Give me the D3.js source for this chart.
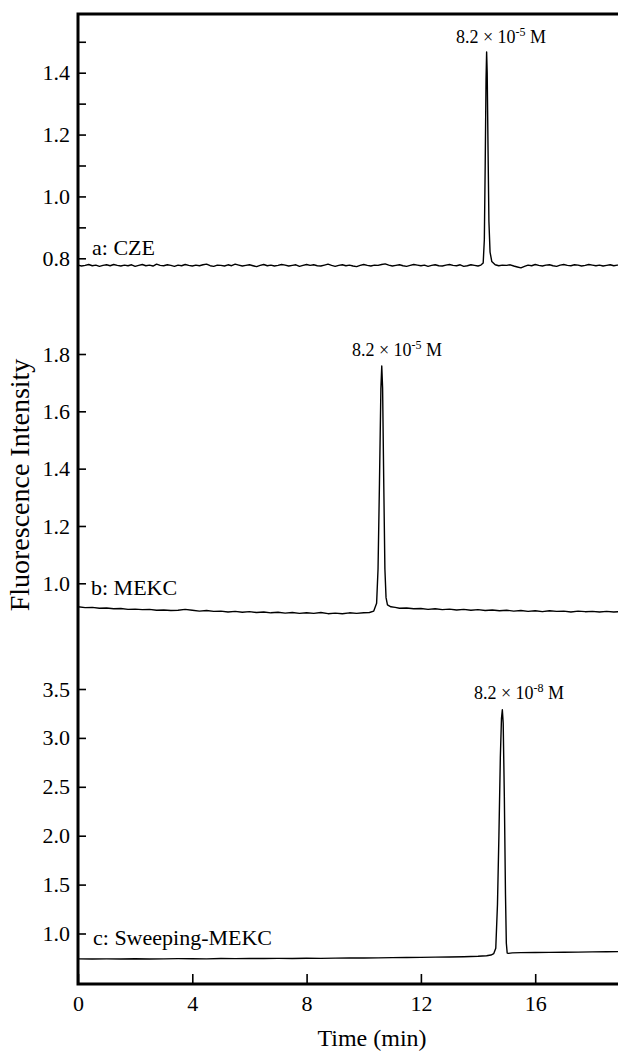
<!DOCTYPE html>
<html>
<head>
<meta charset="utf-8">
<script src="https://cdn.jsdelivr.net/npm/d3@7"></script>
<style>
  html, body { margin: 0; padding: 0; background: #fff; }
  svg { display: block; }
</style>
</head>
<body>
<svg id="chart" width="618" height="1061"></svg>
<script>
// Electropherograms, fluorescence intensity vs. time (min)

const X_TICKS = [0, 4, 8, 12, 16];

// a: CZE
const TRACE_A = [
  [0, 0.778], [0.125, 0.775], [0.25, 0.777], [0.375, 0.780], [0.5, 0.776], [0.625, 0.778],
  [0.75, 0.774], [0.875, 0.777], [1.0, 0.779], [1.125, 0.776], [1.25, 0.780], [1.375, 0.777],
  [1.5, 0.775], [1.625, 0.778], [1.75, 0.776], [1.875, 0.779], [2.0, 0.774], [2.125, 0.777],
  [2.25, 0.780], [2.375, 0.776], [2.5, 0.778], [2.625, 0.775], [2.75, 0.781], [2.875, 0.777],
  [3.0, 0.776], [3.125, 0.779], [3.25, 0.777], [3.375, 0.774], [3.5, 0.778], [3.625, 0.776],
  [3.75, 0.780], [3.875, 0.777], [4.0, 0.775], [4.125, 0.778], [4.25, 0.776], [4.375, 0.779],
  [4.5, 0.781], [4.625, 0.776], [4.75, 0.774], [4.875, 0.778], [5.0, 0.777], [5.125, 0.775],
  [5.25, 0.779], [5.375, 0.776], [5.5, 0.781], [5.625, 0.778], [5.75, 0.775], [5.875, 0.777],
  [6.0, 0.779], [6.125, 0.776], [6.25, 0.773], [6.375, 0.777], [6.5, 0.780], [6.625, 0.776],
  [6.75, 0.778], [6.875, 0.775], [7.0, 0.777], [7.125, 0.780], [7.25, 0.778], [7.375, 0.775],
  [7.5, 0.777], [7.625, 0.779], [7.75, 0.774], [7.875, 0.777], [8.0, 0.780], [8.125, 0.777],
  [8.25, 0.779], [8.375, 0.776], [8.5, 0.775], [8.625, 0.778], [8.75, 0.781], [8.875, 0.777],
  [9.0, 0.774], [9.125, 0.777], [9.25, 0.779], [9.375, 0.776], [9.5, 0.778], [9.625, 0.775],
  [9.75, 0.773], [9.875, 0.777], [10.0, 0.780], [10.125, 0.777], [10.25, 0.775], [10.375, 0.778],
  [10.5, 0.777], [10.625, 0.780], [10.75, 0.782], [10.875, 0.778], [11.0, 0.775], [11.125, 0.777],
  [11.25, 0.779], [11.375, 0.776], [11.5, 0.774], [11.625, 0.777], [11.75, 0.780], [11.875, 0.778],
  [12.0, 0.776], [12.125, 0.778], [12.25, 0.774], [12.375, 0.777], [12.5, 0.779], [12.625, 0.776],
  [12.75, 0.775], [12.875, 0.778], [13.0, 0.780], [13.125, 0.777], [13.25, 0.776], [13.375, 0.779],
  [13.5, 0.774], [13.625, 0.776], [13.75, 0.779], [13.875, 0.777], [14.0, 0.775], [14.1, 0.778],
  [14.18, 0.785], [14.22, 0.86], [14.25, 1.10], [14.28, 1.38], [14.30, 1.467], [14.32, 1.40],
  [14.35, 1.15], [14.38, 0.92], [14.42, 0.82], [14.48, 0.790], [14.6, 0.779], [14.725, 0.776],
  [14.85, 0.778], [15.0, 0.777], [15.125, 0.779], [15.25, 0.775], [15.375, 0.772], [15.5, 0.769],
  [15.625, 0.774], [15.75, 0.778], [15.875, 0.776], [16.0, 0.780], [16.125, 0.777], [16.25, 0.775],
  [16.375, 0.778], [16.5, 0.779], [16.625, 0.776], [16.75, 0.774], [16.875, 0.778], [17.0, 0.780],
  [17.125, 0.777], [17.25, 0.776], [17.375, 0.779], [17.5, 0.778], [17.625, 0.775], [17.75, 0.777],
  [17.875, 0.780], [18.0, 0.778], [18.125, 0.776], [18.25, 0.778], [18.375, 0.775], [18.5, 0.777],
  [18.625, 0.779], [18.75, 0.776], [18.875, 0.778], [19.0, 0.777]
];

// b: MEKC
const TRACE_B = [
  [0, 0.918], [0.25, 0.915], [0.5, 0.916], [0.75, 0.913], [1.0, 0.914], [1.25, 0.911],
  [1.5, 0.912], [1.75, 0.909], [2.0, 0.910], [2.25, 0.908], [2.5, 0.909], [2.75, 0.906],
  [3.0, 0.907], [3.25, 0.905], [3.5, 0.906], [3.75, 0.909], [4.0, 0.906], [4.25, 0.903],
  [4.5, 0.905], [4.75, 0.902], [5.0, 0.903], [5.25, 0.900], [5.5, 0.902], [5.75, 0.899],
  [6.0, 0.901], [6.25, 0.898], [6.5, 0.900], [6.75, 0.897], [7.0, 0.899], [7.25, 0.896],
  [7.5, 0.898], [7.75, 0.895], [8.0, 0.897], [8.25, 0.895], [8.5, 0.898], [8.75, 0.894],
  [9.0, 0.896], [9.25, 0.894], [9.5, 0.897], [9.75, 0.895], [10.0, 0.897], [10.2, 0.898],
  [10.35, 0.903], [10.45, 0.93], [10.5, 1.05], [10.55, 1.35], [10.6, 1.68], [10.63, 1.758],
  [10.66, 1.68], [10.7, 1.35], [10.74, 1.05], [10.78, 0.95], [10.83, 0.925], [10.95, 0.918],
  [11.1, 0.916], [11.25, 0.913], [11.5, 0.914], [11.75, 0.911], [12.0, 0.912], [12.25, 0.909],
  [12.5, 0.911], [12.75, 0.908], [13.0, 0.910], [13.25, 0.907], [13.5, 0.909], [13.75, 0.906],
  [14.0, 0.908], [14.25, 0.905], [14.5, 0.907], [14.75, 0.904], [15.0, 0.906], [15.25, 0.903],
  [15.5, 0.905], [15.75, 0.902], [16.0, 0.904], [16.25, 0.901], [16.5, 0.904], [16.75, 0.902],
  [17.0, 0.903], [17.25, 0.900], [17.5, 0.903], [17.75, 0.901], [18.0, 0.902], [18.25, 0.900],
  [18.5, 0.902], [18.75, 0.900], [19.0, 0.901]
];

// c: Sweeping-MEKC
const TRACE_C = [
  [0, 0.741], [0.5, 0.739], [1.0, 0.741], [1.5, 0.740], [2.0, 0.742], [2.5, 0.740],
  [3.0, 0.741], [3.5, 0.743], [4.0, 0.742], [4.5, 0.741], [5.0, 0.744], [5.5, 0.743],
  [6.0, 0.745], [6.5, 0.744], [7.0, 0.746], [7.5, 0.745], [8.0, 0.747], [8.5, 0.746],
  [9.0, 0.748], [9.5, 0.749], [10.0, 0.750], [10.5, 0.751], [11.0, 0.753], [11.5, 0.754],
  [12.0, 0.756], [12.5, 0.758], [13.0, 0.760], [13.5, 0.763], [14.0, 0.767], [14.3, 0.772],
  [14.45, 0.780], [14.55, 0.795], [14.62, 0.85], [14.68, 1.3], [14.73, 2.0], [14.78, 2.8],
  [14.82, 3.2], [14.85, 3.288], [14.88, 3.15], [14.92, 2.4], [14.96, 1.4], [14.99, 0.9],
  [15.02, 0.800], [15.06, 0.797], [15.2, 0.802], [15.5, 0.804], [16.0, 0.806], [16.5, 0.807],
  [17.0, 0.809], [17.5, 0.810], [18.0, 0.812], [18.5, 0.813], [19.0, 0.815]
];

const TICKS_A = [0.8, 1.0, 1.2, 1.4];
const MINOR_A = [0.9, 1.1, 1.3, 1.5];
const TICKS_B = [1.0, 1.2, 1.4, 1.6, 1.8];
const TICKS_C = [1.0, 1.5, 2.0, 2.5, 3.0, 3.5];

const PANEL_LABELS = ['a: CZE', 'b: MEKC', 'c: Sweeping-MEKC'];
const PEAK_LABELS = [
  { mant: '8.2 \u00d7 10', exp: '-5', unit: ' M' },
  { mant: '8.2 \u00d7 10', exp: '-5', unit: ' M' },
  { mant: '8.2 \u00d7 10', exp: '-8', unit: ' M' }
];

const FONT = '"Liberation Serif", "Times New Roman", Times, serif';
const LEFT = 78, TOP = 14, BOTTOM = 984, W = 618;

const svg = d3.select('#chart');

const x = d3.scaleLinear().domain([0, 20]).range([LEFT, LEFT + 5 * 114.3]);

// each panel has its own intensity scale stacked on the shared time axis
const panels = [
  { trace: TRACE_A, ticks: TICKS_A, minor: MINOR_A,
    y: d3.scaleLinear().domain([0.8, 1.4]).range([258.3, 72.7]),
    label: { x: 92, y: 255 }, peak: { x: 501, y: 43 } },
  { trace: TRACE_B, ticks: TICKS_B, minor: [],
    y: d3.scaleLinear().domain([1.0, 1.8]).range([583.3, 354]),
    label: { x: 91, y: 595 }, peak: { x: 397, y: 356 } },
  { trace: TRACE_C, ticks: TICKS_C, minor: [],
    y: d3.scaleLinear().domain([1.0, 3.5]).range([933.5, 689]),
    label: { x: 93, y: 945 }, peak: { x: 519, y: 699 } }
];

panels.forEach((p, i) => {
  const ax = svg.append('g')
    .attr('transform', `translate(${LEFT},0)`)
    .call(d3.axisLeft(p.y).tickValues(p.ticks).tickFormat(d3.format('.1f'))
      .tickSize(-8).tickPadding(8));
  ax.select('.domain').remove();
  ax.selectAll('line').attr('stroke', '#000').attr('stroke-width', 1.6);
  ax.selectAll('text').attr('font-family', FONT).attr('font-size', 22).attr('fill', '#000');

  if (p.minor.length) {
    const mx = svg.append('g')
      .attr('transform', `translate(${LEFT},0)`)
      .call(d3.axisLeft(p.y).tickValues(p.minor).tickFormat('').tickSize(-8));
    mx.select('.domain').remove();
    mx.selectAll('line').attr('stroke', '#000').attr('stroke-width', 1.6);
  }

  const line = d3.line().x(d => x(d[0])).y(d => p.y(d[1]));
  svg.append('path')
    .datum(p.trace)
    .attr('d', line)
    .attr('fill', 'none')
    .attr('stroke', '#000')
    .attr('stroke-width', 1.4)
    .attr('stroke-linejoin', 'round');

  svg.append('text')
    .attr('x', p.label.x).attr('y', p.label.y)
    .attr('font-family', FONT).attr('font-size', 22)
    .text(PANEL_LABELS[i]);

  const pk = PEAK_LABELS[i];
  const t = svg.append('text')
    .attr('x', p.peak.x).attr('y', p.peak.y)
    .attr('text-anchor', 'middle')
    .attr('font-family', FONT).attr('font-size', 18);
  t.append('tspan').text(pk.mant);
  t.append('tspan').attr('font-size', 12).attr('dy', -7).text(pk.exp);
  t.append('tspan').attr('dy', 7).text(pk.unit);
});

// shared time axis
const xa = svg.append('g')
  .attr('transform', `translate(0,${BOTTOM})`)
  .call(d3.axisBottom(x).tickValues(X_TICKS).tickSize(-10).tickPadding(11));
xa.select('.domain').remove();
xa.selectAll('line').attr('stroke', '#000').attr('stroke-width', 1.6);
xa.selectAll('text').attr('font-family', FONT).attr('font-size', 22).attr('fill', '#000');

// frame: left, bottom, top
svg.append('path')
  .attr('d', `M${W},${TOP}H${LEFT}V${BOTTOM}H${W}`)
  .attr('fill', 'none')
  .attr('stroke', '#000')
  .attr('stroke-width', 3);

svg.append('text')
  .attr('x', 372).attr('y', 1046)
  .attr('text-anchor', 'middle')
  .attr('font-family', FONT).attr('font-size', 24)
  .text('Time (min)');

svg.append('text')
  .attr('transform', 'translate(29,485) rotate(-90)')
  .attr('text-anchor', 'middle')
  .attr('font-family', FONT).attr('font-size', 28)
  .text('Fluorescence Intensity');
</script>
</body>
</html>
